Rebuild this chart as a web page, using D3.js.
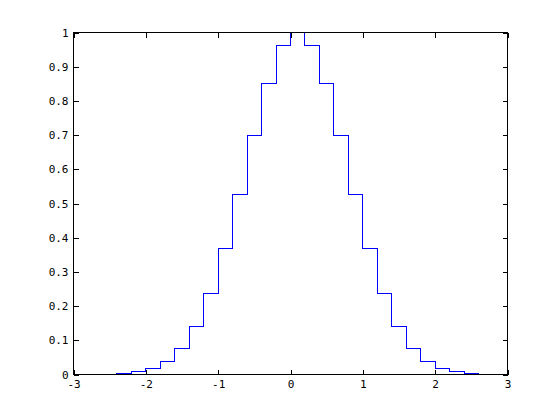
<!DOCTYPE html>
<html>
<head>
<meta charset="utf-8">
<style>
  body { margin: 0; background: white; }
  svg { display: block; }
  .tick text { font-family: "DejaVu Sans Mono", monospace; font-size: 11px; fill: black; }
</style>
</head>
<body>
<svg width="560" height="420"></svg>
<script src="https://cdn.jsdelivr.net/npm/d3@7/dist/d3.min.js"></script>
<script>
// stair heights at each x (step starts at x, holds until next x)
var xs = [-3, -2.8, -2.6, -2.4, -2.2, -2, -1.8, -1.6, -1.4, -1.2, -1, -0.8, -0.6, -0.4, -0.2,
          0, 0.2, 0.4, 0.6, 0.8, 1, 1.2, 1.4, 1.6, 1.8, 2, 2.2, 2.4, 2.6, 2.8, 3];
var ys = [0.0001, 0.0004, 0.0012, 0.0032, 0.0079, 0.0183, 0.0392, 0.0773, 0.1409, 0.2369, 0.3679,
          0.5273, 0.6977, 0.8521, 0.9608, 1.0, 0.9608, 0.8521, 0.6977, 0.5273, 0.3679,
          0.2369, 0.1409, 0.0773, 0.0392, 0.0183, 0.0079, 0.0032, 0.0012, 0.0004, 0.0001];
var xTicks = [-3, -2, -1, 0, 1, 2, 3];
var yTicks = [0, 0.1, 0.2, 0.3, 0.4, 0.5, 0.6, 0.7, 0.8, 0.9, 1];

var svg = d3.select("svg"),
    mLeft = 73, mRight = 507, mTop = 32, mBottom = 374;

var x = d3.scaleLinear().domain([-3, 3]).range([mLeft, mRight]);
var y = d3.scaleLinear().domain([0, 1]).range([mBottom, mTop]);

var data = xs.map(function(d, i) { return [d, ys[i]]; });

var line = d3.line()
    .x(function(d) { return x(d[0]); })
    .y(function(d) { return y(d[1]); })
    .curve(d3.curveStepAfter);

svg.append("path")
    .datum(data)
    .attr("fill", "none")
    .attr("stroke", "#0000ff")
    .attr("stroke-width", 1)
    .attr("shape-rendering", "crispEdges")
    .attr("transform", "translate(0.5,0.5)")
    .attr("d", line);

function fmt(d) { return String(+d.toFixed(1)); }

// bottom / left axes with labels, ticks pointing inward
svg.append("g")
    .attr("transform", "translate(0.5," + (mBottom + 0.5) + ")")
    .call(d3.axisBottom(x).tickValues(xTicks).tickSizeInner(-5).tickSizeOuter(0).tickPadding(6).tickFormat(fmt));
svg.append("g")
    .attr("transform", "translate(" + (mLeft + 0.5) + ",0.5)")
    .call(d3.axisLeft(y).tickValues(yTicks).tickSizeInner(-5).tickSizeOuter(0).tickPadding(5).tickFormat(fmt));
// top / right ticks without labels
svg.append("g")
    .attr("transform", "translate(0.5," + (mTop + 0.5) + ")")
    .call(d3.axisTop(x).tickValues(xTicks).tickSizeInner(-5).tickSizeOuter(0).tickFormat(""));
svg.append("g")
    .attr("transform", "translate(" + (mRight + 0.5) + ",0.5)")
    .call(d3.axisRight(y).tickValues(yTicks).tickSizeInner(-5).tickSizeOuter(0).tickFormat(""));

svg.selectAll(".domain").remove();
svg.selectAll(".tick line").attr("stroke", "black").attr("shape-rendering", "crispEdges");

svg.append("rect")
    .attr("x", mLeft + 0.5).attr("y", mTop + 0.5)
    .attr("width", mRight - mLeft).attr("height", mBottom - mTop)
    .attr("fill", "none").attr("stroke", "black")
    .attr("shape-rendering", "crispEdges");
</script>
</body>
</html>
